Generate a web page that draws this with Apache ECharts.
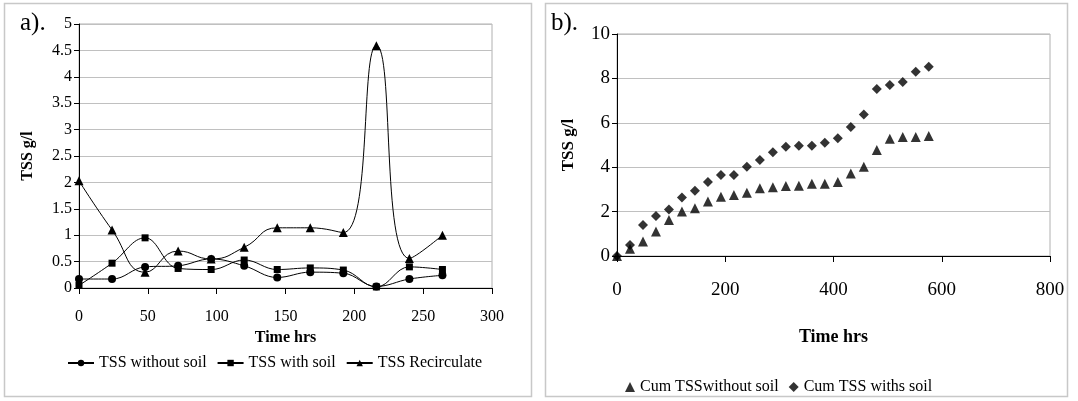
<!DOCTYPE html>
<html>
<head>
<meta charset="utf-8">
<script src="https://cdn.jsdelivr.net/npm/echarts@6/dist/echarts.min.js"></script>
<style>
html,body{margin:0;padding:0;background:#fff;}
#chart{width:1078px;height:401px;}
</style>
</head>
<body>
<div id="chart"></div>
<script>
// Panel a data
var timeA = [0, 24, 48, 72, 96, 120, 144, 168, 192, 216, 240, 264];
var tssWithoutSoil = [0.17, 0.17, 0.40, 0.42, 0.55, 0.42, 0.20, 0.30, 0.28, 0.03, 0.17, 0.24];
var tssWithSoil = [0.05, 0.47, 0.95, 0.37, 0.35, 0.53, 0.35, 0.38, 0.34, 0.02, 0.40, 0.35];
var tssRecirculate = [2.03, 1.10, 0.30, 0.70, 0.55, 0.77, 1.14, 1.14, 1.05, 4.59, 0.56, 1.00];

// Panel b data
var timeB = [0, 24, 48, 72, 96, 120, 144, 168, 192, 216, 240, 264, 288, 312, 336, 360, 384, 408, 432, 456, 480, 504, 528, 552, 576];
var cumWithoutSoil = [0.0, 0.33, 0.65, 1.1, 1.62, 2.0, 2.15, 2.45, 2.67, 2.75, 2.85, 3.05, 3.1, 3.15, 3.17, 3.25, 3.26, 3.33, 3.72, 4.02, 4.77, 5.28, 5.36, 5.36, 5.4];
var cumWithSoil = [0.0, 0.5, 1.4, 1.8, 2.1, 2.63, 2.94, 3.33, 3.65, 3.65, 4.02, 4.32, 4.67, 4.92, 4.97, 4.97, 5.1, 5.3, 5.81, 6.37, 7.52, 7.7, 7.84, 8.3, 8.53];

function pairs(xs, ys) { return xs.map(function (x, i) { return [x, ys[i]]; }); }

var FONT = '"Liberation Serif", "Times New Roman", serif';
var chart = echarts.init(document.getElementById('chart'));

var option = {
  animation: false,
  backgroundColor: '#fff',
  textStyle: { fontFamily: FONT, color: '#000' },
  graphic: [
    { type: 'rect', shape: { x: 4.5, y: 3.5, width: 527, height: 393 }, style: { fill: 'none', stroke: '#c8c8c8', lineWidth: 1.5 }, z: -1 },
    { type: 'rect', shape: { x: 545.5, y: 3.5, width: 522, height: 393 }, style: { fill: 'none', stroke: '#c8c8c8', lineWidth: 1.5 }, z: -1 },
    { type: 'text', left: 20, top: 11, style: { text: 'a).', font: '25px ' + FONT, fill: '#000' } },
    { type: 'text', left: 551, top: 11, style: { text: 'b).', font: '25px ' + FONT, fill: '#000' } }
  ],
  grid: [
    { left: 79, top: 24, width: 413, height: 264, show: true, borderColor: '#b0b0b0', borderWidth: 1, containLabel: false },
    { left: 617, top: 34, width: 433, height: 222, show: true, borderColor: '#b0b0b0', borderWidth: 1, containLabel: false }
  ],
  legend: [
    {
      data: ['TSS without soil', 'TSS with soil', 'TSS Recirculate'],
      left: 62, top: 350, itemWidth: 26, itemHeight: 8, itemGap: 10,
      textStyle: { fontFamily: FONT, fontSize: 16, color: '#000' }
    },
    {
      data: ['Cum TSSwithout soil', 'Cum TSS withs soil'],
      left: 620, top: 374, itemWidth: 10, itemHeight: 10, itemGap: 10,
      textStyle: { fontFamily: FONT, fontSize: 16, color: '#000' }
    }
  ],
  xAxis: [
    {
      gridIndex: 0, type: 'value', min: 0, max: 300, interval: 50,
      name: 'Time hrs', nameLocation: 'middle', nameGap: 41,
      nameTextStyle: { fontFamily: FONT, fontSize: 16, fontWeight: 'bold', color: '#000' },
      axisLine: { lineStyle: { color: '#000', width: 1 } },
      axisTick: { show: true, length: 6, lineStyle: { color: '#000' } },
      axisLabel: { fontFamily: FONT, fontSize: 16, color: '#000', margin: 21 },
      splitLine: { show: false }
    },
    {
      gridIndex: 1, type: 'value', min: 0, max: 800, interval: 200,
      name: 'Time hrs', nameLocation: 'middle', nameGap: 72,
      nameTextStyle: { fontFamily: FONT, fontSize: 18, fontWeight: 'bold', color: '#000' },
      axisLine: { lineStyle: { color: '#000', width: 1 } },
      axisTick: { show: true, length: 6, lineStyle: { color: '#000' } },
      axisLabel: { fontFamily: FONT, fontSize: 19, color: '#000', margin: 25 },
      splitLine: { show: false }
    }
  ],
  yAxis: [
    {
      gridIndex: 0, type: 'value', min: 0, max: 5, interval: 0.5,
      name: 'TSS g/l', nameLocation: 'middle', nameGap: 43, nameRotate: 90,
      nameTextStyle: { fontFamily: FONT, fontSize: 16, fontWeight: 'bold', color: '#000' },
      axisLine: { show: true, lineStyle: { color: '#000', width: 1 } },
      axisTick: { show: true, length: 5, lineStyle: { color: '#000' } },
      axisLabel: { fontFamily: FONT, fontSize: 16, color: '#000', margin: 7 },
      splitLine: { show: true, lineStyle: { color: '#c0c0c0', width: 1 } }
    },
    {
      gridIndex: 1, type: 'value', min: 0, max: 10, interval: 2,
      name: 'TSS g/l', nameLocation: 'middle', nameGap: 40, nameRotate: 90,
      nameTextStyle: { fontFamily: FONT, fontSize: 17, fontWeight: 'bold', color: '#000' },
      axisLine: { show: true, lineStyle: { color: '#000', width: 1 } },
      axisTick: { show: true, length: 5, lineStyle: { color: '#000' } },
      axisLabel: { fontFamily: FONT, fontSize: 19, color: '#000', margin: 7 },
      splitLine: { show: true, lineStyle: { color: '#c0c0c0', width: 1 } }
    }
  ],
  series: [
    {
      name: 'TSS without soil', type: 'line', xAxisIndex: 0, yAxisIndex: 0,
      data: pairs(timeA, tssWithoutSoil), smooth: 0.4,
      symbol: 'circle', symbolSize: 8,
      lineStyle: { color: '#000', width: 1 }, itemStyle: { color: '#000' }
    },
    {
      name: 'TSS with soil', type: 'line', xAxisIndex: 0, yAxisIndex: 0,
      data: pairs(timeA, tssWithSoil), smooth: 0.4,
      symbol: 'rect', symbolSize: 7,
      lineStyle: { color: '#000', width: 1 }, itemStyle: { color: '#000' }
    },
    {
      name: 'TSS Recirculate', type: 'line', xAxisIndex: 0, yAxisIndex: 0,
      data: pairs(timeA, tssRecirculate), smooth: 0.5,
      symbol: 'triangle', symbolSize: 9,
      lineStyle: { color: '#000', width: 1 }, itemStyle: { color: '#000' }
    },
    {
      name: 'Cum TSSwithout soil', type: 'scatter', xAxisIndex: 1, yAxisIndex: 1,
      data: pairs(timeB, cumWithoutSoil), symbol: 'triangle', symbolSize: 10,
      itemStyle: { color: '#000' }
    },
    {
      name: 'Cum TSS withs soil', type: 'scatter', xAxisIndex: 1, yAxisIndex: 1,
      data: pairs(timeB, cumWithSoil), symbol: 'diamond', symbolSize: 10,
      itemStyle: { color: '#000' }
    }
  ]
};
chart.setOption(option);
</script>
</body>
</html>
